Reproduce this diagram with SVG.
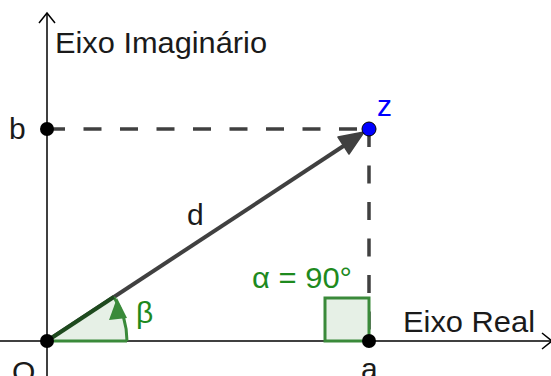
<svg xmlns="http://www.w3.org/2000/svg" width="551" height="376" viewBox="0 0 551 376">
<style>
text{font-family:"Liberation Sans",Arial,sans-serif;font-size:30px;fill:#1a1a1a}
.axis{stroke:#000;stroke-width:1.5;fill:none}
.dash{stroke:#404040;stroke-width:3.5;stroke-dasharray:18 18.5;fill:none}
.green{fill:#1e8a1e}
.pt{fill:#000}
</style>
<rect width="551" height="376" fill="#fff"/>
<g id="axes">
<line class="axis" x1="47" y1="14" x2="47" y2="376"/>
<polyline class="axis" points="39,23 47,13 55,23"/>
<line class="axis" x1="0" y1="341" x2="551" y2="341"/>
<polyline class="axis" points="542,333 552,341 542,349"/>
<text x="55" y="53" textLength="212" lengthAdjust="spacingAndGlyphs">Eixo Imaginário</text>
<text x="403" y="332" textLength="132" lengthAdjust="spacingAndGlyphs">Eixo Real</text>
</g>
<g id="connectors">
<line class="dash" x1="47" y1="129" x2="369" y2="129"/>
<line class="dash" x1="369" y1="129" x2="369" y2="341"/>
<line x1="47" y1="341" x2="345" y2="145" stroke="#404040" stroke-width="4"/>
<polygon points="364,132 338,137 349,154" fill="#404040" stroke="#404040" stroke-width="1.5" stroke-linejoin="round"/>
</g>
<g id="angle-alpha">
<rect x="325" y="298" width="44" height="43" fill="#e6f0e6" stroke="#3a8a3a" stroke-width="3"/>
<text class="green" x="252" y="288" textLength="100" lengthAdjust="spacingAndGlyphs">α = 90°</text>
</g>
<g id="angle-beta">
<path d="M47,341 L127,341 A80,80 0 0,0 113.8,297 Z" fill="#e6f0e6" stroke="none"/>
<line x1="47" y1="341" x2="127" y2="341" stroke="#3a8a3a" stroke-width="3"/>
<path d="M127,341 A80,80 0 0,0 113.8,297" fill="none" stroke="#3a8a3a" stroke-width="3"/>
<line x1="47" y1="341" x2="113.8" y2="297" stroke="#1e4a1e" stroke-width="4"/>
<polygon points="117,298 109,320 127,318" fill="#3a8a3a"/>
<text class="green" x="136" y="323">β</text>
</g>
<g id="label-d"><text x="187" y="225">d</text></g>
<g id="point-O">
<circle class="pt" cx="47" cy="341" r="7"/>
<text x="12" y="382">O</text>
</g>
<g id="point-b">
<circle class="pt" cx="47" cy="129" r="7"/>
<text x="9" y="139">b</text>
</g>
<g id="point-a">
<circle class="pt" cx="369" cy="341" r="7"/>
<text x="361" y="379">a</text>
</g>
<g id="point-z">
<circle cx="369" cy="129" r="7" fill="#0000ff" stroke="#000" stroke-width="1"/>
<text x="377" y="116" style="fill:#0000ff">z</text>
</g>
</svg>
